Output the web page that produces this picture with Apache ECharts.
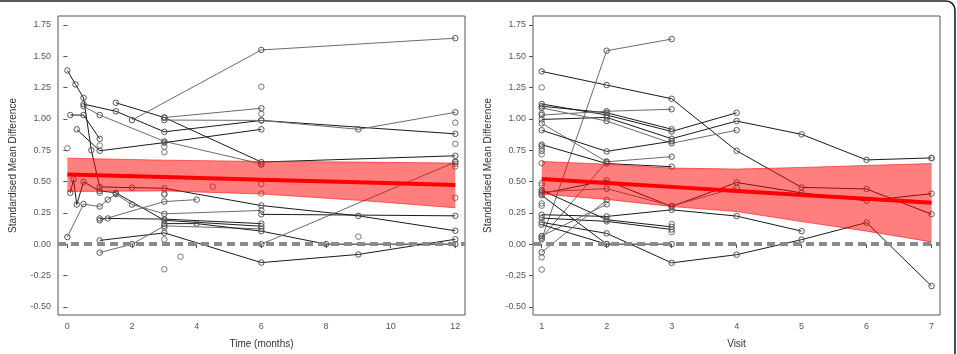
<!DOCTYPE html>
<html>
<head>
<meta charset="utf-8">
<script src="https://cdn.jsdelivr.net/npm/echarts@6/dist/echarts.min.js"></script>
<style>
  html, body { margin: 0; padding: 0; background: #fff; }
  #chart { width: 957px; height: 354px; }
</style>
</head>
<body>
<div id="chart"></div>
<script>
// ---- left panel: SMD by time (months) ----
const monthTicks = [0, 2, 4, 6, 8, 10, 12];
const monthTracks = [
  [[0, 1.386], [0.25, 1.274], [0.5, 1.167], [0.74, 0.75], [1, 0.457], [2, 0.451], [3, 0.446], [6, 0.308], [9, 0.226], [12, 0.107]],
  [[0.5, 1.117], [1.5, 1.06], [3, 0.896], [6, 0.987], [12, 0.88]],
  [[0.5, 1.1], [1, 1.03], [3, 0.82], [6, 0.64]],
  [[0.09, 1.03], [0.5, 1.03], [1, 0.84]],
  [[1.5, 1.128], [3, 1.01], [6, 0.655], [12, 0.705]],
  [[2, 0.99], [6, 1.549], [12, 1.643]],
  [[3, 0.99], [6, 0.987], [9, 0.916], [12, 1.052]],
  [[3, 1.01], [6, 1.084]],
  [[0.29, 0.916], [1, 0.745], [3, 0.81], [6, 0.916]],
  [[0.09, 0.41], [0.19, 0.516], [0.29, 0.316], [0.5, 0.497], [1, 0.425], [1.5, 0.41], [3, 0.19], [6, 0.143]],
  [[0, 0.057], [0.5, 0.32], [1, 0.3], [1.25, 0.355], [1.5, 0.4], [2, 0.316], [3, 0.242], [6, 0.269]],
  [[1, 0.205], [1.25, 0.205], [3, 0.2], [6, 0.164]],
  [[1, 0.19], [3, 0.34], [4, 0.355]],
  [[1, 0.03], [3, 0.09], [6, -0.147], [9, -0.082], [12, 0.039]],
  [[1, -0.067], [2, 0], [3, 0.146], [6, 0.122]],
  [[3, 0.164], [4, 0.164], [6, 0.104], [8, 0], [12, 0]],
  [[6, 0], [12, 0.655]],
  [[6, 0.238], [12, 0.226]]
];
const monthShades = ['k', 'k', 'g', 'k', 'k', 'g', 'g', 'g', 'k', 'k', 'g', 'k', 'g', 'k', 'g', 'k', 'g', 'k'];
const monthLoose = [
  [0, 0.765], [1, 0.787], [1, 0.41], [3, 0.778], [3, 0.733], [6, 1.256], [6, 1.04], [3, 0.394], [3, 0.404],
  [3, 0.132], [3, 0.038], [3, -0.2], [3.5, -0.1], [4.5, 0.459], [6, 0.48], [6, 0.404], [6, 0.634],
  [9, 0.06], [12, 0.969], [12, 0.8], [12, 0.66], [12, 0.64], [12, 0.62], [12, 0.37]
];
const monthBandX = [0, 3, 6, 9, 12];
const monthFit = [0.556, 0.535, 0.514, 0.493, 0.472];
const monthLower = [0.42, 0.425, 0.4, 0.35, 0.29];
const monthUpper = [0.686, 0.67, 0.66, 0.655, 0.647];

// ---- right panel: SMD by visit ----
const visitTicks = [1, 2, 3, 4, 5, 6, 7];
const visitTracks = [
  [[1, 1.378], [2, 1.269], [3, 1.16], [4, 0.745], [5, 0.453], [6, 0.44], [7, 0.239]],
  [[1, 0.039], [2, 1.543], [3, 1.636]],
  [[1, 1.118], [2, 1.03], [3, 0.899], [4, 1.048]],
  [[1, 1.1], [2, 1.048], [3, 0.917]],
  [[1, 1.03], [2, 1.06], [3, 1.076]],
  [[1, 0.995], [2, 1.011], [3, 0.841], [4, 0.982], [5, 0.876], [6, 0.672], [7, 0.688]],
  [[1, 1.087], [2, 0.982], [3, 0.805], [4, 0.909]],
  [[1, 0.964], [2, 0.657], [3, 0.698]],
  [[1, 0.909], [2, 0.74], [3, 0.821]],
  [[1, 0.794], [2, 0.643], [3, 0.618]],
  [[1, 0.052], [2, 0.659]],
  [[1, 0.403], [2, 0.508], [3, 0.3], [4, 0.492], [5, 0.409], [6, 0.346], [7, 0.403]],
  [[1, 0.417], [2, 0.443], [3, 0.305], [4, 0.45]],
  [[1, 0.39], [2, 0], [3, 0]],
  [[1, 0.43], [2, 0.195], [3, 0.138]],
  [[1, 0.235], [2, 0.221], [3, 0.274], [4, 0.224], [5, 0.104]],
  [[1, 0.208], [2, 0.182], [3, 0.117]],
  [[1, 0.174], [2, 0.086], [3, -0.149], [4, -0.084], [5, 0.036], [6, 0.172], [7, -0.334]],
  [[1, -0.065], [2, 0.352]],
  [[1, 0.065], [2, 0.318]],
  [[1, 0.156], [2, 0]]
];
const visitShades = ['k', 'g', 'k', 'k', 'g', 'k', 'g', 'g', 'k', 'k', 'g', 'k', 'g', 'k', 'k', 'k', 'k', 'k', 'g', 'g', 'k'];
const visitLoose = [
  [1, 1.25], [1, 1.042], [1, 0.782], [1, 0.763], [1, 0.743], [1, 0.716], [1, 0.646], [1, 0.487], [1, 0.469],
  [1, 0.325], [1, 0.307], [1, -0.105], [1, -0.203], [3, 0.161], [3, 0.096], [7, 0.685]
];
const visitBandX = [1, 2, 3, 4, 5, 6, 7];
const visitFit = [0.52, 0.488, 0.457, 0.425, 0.393, 0.362, 0.33];
const visitLower = [0.4, 0.357, 0.3, 0.26, 0.18, 0.104, 0.018];
const visitUpper = [0.66, 0.638, 0.607, 0.599, 0.612, 0.628, 0.643];

const yTicks = [-0.5, -0.25, 0, 0.25, 0.5, 0.75, 1, 1.25, 1.5, 1.75];

const FONT = 'Liberation Sans, Arial, Helvetica, sans-serif';
const shadeColor = { k: '#1a1a1a', g: '#6b6b6b' };

const chart = echarts.init(document.getElementById('chart'));

function xAxisFor(idx, min, max, ticks, name) {
  return {
    gridIndex: idx,
    type: 'value',
    min,
    max,
    name,
    nameLocation: 'middle',
    nameGap: 24,
    nameTextStyle: { fontFamily: FONT, fontSize: 10, color: '#333' },
    axisLine: { show: false },
    axisTick: { show: true, length: 4, customValues: ticks, lineStyle: { color: '#555' } },
    axisLabel: { customValues: ticks, margin: 7, fontFamily: FONT, fontSize: 9, color: '#555' },
    splitLine: { show: false }
  };
}

function yAxisFor(idx) {
  return {
    gridIndex: idx,
    type: 'value',
    min: -0.565,
    max: 1.82,
    name: 'Standardised Mean Difference',
    nameLocation: 'middle',
    nameGap: 40,
    nameTextStyle: { fontFamily: FONT, fontSize: 10, color: '#333' },
    axisLine: { show: false },
    axisTick: { show: true, length: 4, customValues: yTicks, lineStyle: { color: '#555' } },
    axisLabel: {
      customValues: yTicks,
      margin: 7,
      fontFamily: FONT,
      fontSize: 9,
      color: '#555',
      formatter: (v) => v.toFixed(2)
    },
    splitLine: { show: false }
  };
}

// confidence band drawn as one polygon between the upper and lower limits
function bandSeries(idx, bandX, lower, upper) {
  return {
    type: 'custom',
    xAxisIndex: idx,
    yAxisIndex: idx,
    silent: true,
    z: 5,
    data: bandX.map((x, i) => [x, lower[i], upper[i]]),
    encode: { x: 0, y: [1, 2] },
    renderItem: (params, api) => {
      if (params.dataIndex !== 0) return { type: 'group', children: [] };
      const top = bandX.map((x, i) => api.coord([x, upper[i]]));
      const bot = bandX.map((x, i) => api.coord([x, lower[i]]));
      const edge = { stroke: 'rgba(255,0,0,0.55)', lineWidth: 1, fill: null };
      return {
        type: 'group',
        children: [
          { type: 'polygon', shape: { points: top.concat(bot.slice().reverse()) }, style: { fill: 'rgba(255,0,0,0.5)' } },
          { type: 'polyline', shape: { points: top }, style: edge },
          { type: 'polyline', shape: { points: bot }, style: edge }
        ]
      };
    }
  };
}

function panelSeries(idx, tracks, shades, loose, bandX, fit, lower, upper) {
  const marker = { color: 'rgba(0,0,0,0)', borderColor: '#555', borderWidth: 1 };
  const out = [];
  tracks.forEach((pts, i) => {
    out.push({
      type: 'line',
      xAxisIndex: idx,
      yAxisIndex: idx,
      data: pts,
      symbol: 'circle',
      symbolSize: 5.5,
      showSymbol: true,
      silent: true,
      z: 3,
      lineStyle: { color: shadeColor[shades[i]], width: 1 },
      itemStyle: marker
    });
  });
  out.push({
    type: 'scatter',
    xAxisIndex: idx,
    yAxisIndex: idx,
    data: loose,
    symbol: 'circle',
    symbolSize: 5.5,
    silent: true,
    z: 3,
    itemStyle: marker
  });
  out.push(bandSeries(idx, bandX, lower, upper));
  out.push({
    type: 'line',
    xAxisIndex: idx,
    yAxisIndex: idx,
    data: bandX.map((x, i) => [x, fit[i]]),
    symbol: 'none',
    silent: true,
    z: 6,
    lineStyle: { color: '#ff0000', width: 4 },
    markLine: {
      silent: true,
      symbol: 'none',
      label: { show: false },
      lineStyle: { color: '#8a8a8a', width: 4, type: [8, 5] },
      data: [{ yAxis: 0 }]
    }
  });
  return out;
}

chart.setOption({
  animation: false,
  backgroundColor: '#fff',
  textStyle: { fontFamily: FONT },
  graphic: [
    {
      type: 'rect',
      shape: { x: -20, y: 1, width: 975, height: 420, r: 9 },
      style: { fill: 'none', stroke: '#222', lineWidth: 1.6 },
      silent: true
    }
  ],
  grid: [
    { left: 58, top: 16, width: 407, height: 305, show: true, borderColor: '#555', borderWidth: 1, backgroundColor: 'transparent' },
    { left: 533, top: 16, width: 407, height: 305, show: true, borderColor: '#555', borderWidth: 1, backgroundColor: 'transparent' }
  ],
  xAxis: [
    xAxisFor(0, -0.29, 12.3, monthTicks, 'Time (months)'),
    xAxisFor(1, 0.866, 7.13, visitTicks, 'Visit')
  ],
  yAxis: [yAxisFor(0), yAxisFor(1)],
  series: [
    ...panelSeries(0, monthTracks, monthShades, monthLoose, monthBandX, monthFit, monthLower, monthUpper),
    ...panelSeries(1, visitTracks, visitShades, visitLoose, visitBandX, visitFit, visitLower, visitUpper)
  ]
});
</script>
</body>
</html>
